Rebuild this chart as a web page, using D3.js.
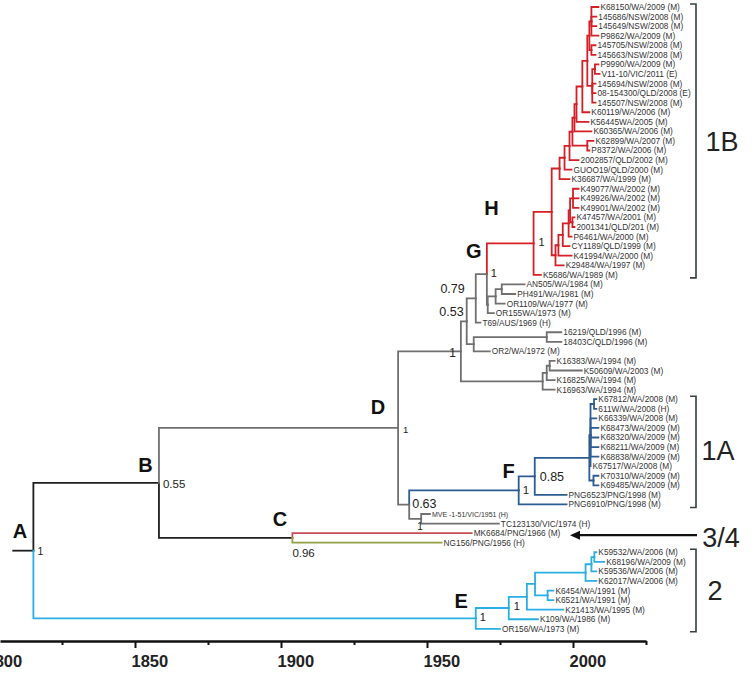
<!DOCTYPE html>
<html><head><meta charset="utf-8">
<script src="https://cdn.jsdelivr.net/npm/d3@7"></script>
<style>body{margin:0;background:#fff}svg{display:block}</style>
</head><body>
<svg id="c" width="755" height="674"></svg>
<script>
// ---------- DATA ----------
const tipNames = [
"K68150/WA/2009 (M)","145686/NSW/2008 (M)","145649/NSW/2008 (M)","P9862/WA/2009 (M)","145705/NSW/2008 (M)","145663/NSW/2008 (M)",
"P9990/WA/2009 (M)","V11-10/VIC/2011 (E)","145694/NSW/2008 (M)","08-154300/QLD/2008 (E)","145507/NSW/2008 (M)",
"K60119/WA/2006 (M)","K56445WA/2005 (M)","K60365/WA/2006 (M)","K62899/WA/2007 (M)","P8372/WA/2006 (M)",
"2002857/QLD/2002 (M)","GUOO19/QLD/2000 (M)","K36687/WA/1999 (M)","K49077/WA/2002 (M)","K49926/WA/2002 (M)",
"K49901/WA/2002 (M)","K47457/WA/2001 (M)","2001341/QLD/201 (M)","P6461/WA/2000 (M)","CY1189/QLD/1999 (M)",
"K41994/WA/2000 (M)","K29484/WA/1997 (M)","K5686/WA/1989 (M)",
"AN505/WA/1984 (M)","PH491/WA/1981 (M)","OR1109/WA/1977 (M)","OR155WA/1973 (M)","T69/AUS/1969 (H)",
"16219/QLD/1996 (M)","18403C/QLD/1996 (M)","OR2/WA/1972 (M)","K16383/WA/1994 (M)","K50609/WA/2003 (M)",
"K16825/WA/1994 (M)","K16963/WA/1994 (M)",
"K67812/WA/2008 (M)","611W/WA/2008 (H)","K66339/WA/2008 (M)","K68473/WA/2009 (M)","K68320/WA/2009 (M)",
"K68211/WA/2009 (M)","K68838/WA/2009 (M)","K67517/WA/2008 (M)","K70310/WA/2009 (M)","K69485/WA/2009 (M)",
"PNG6523/PNG/1998 (M)","PNG6910/PNG/1998 (M)",
"MVE -1-51/VIC/1951 (H)","TC123130/VIC/1974 (H)",
"MK6684/PNG/1966 (M)","NG156/PNG/1956 (H)",
"K59532/WA/2006 (M)","K68196/WA/2009 (M)","K59536/WA/2006 (M)","K62017/WA/2006 (M)","K6454/WA/1991 (M)",
"K6521/WA/1991 (M)","K21413/WA/1995 (M)","K109/WA/1986 (M)","OR156/WA/1973 (M)"
];
const tipParents = [
"T1a","T1a","T1a","T1a","T1b","T1b",
"T2a","T2a","T2","T2","T2",
"Ru7","Ru6","Ru5","Rkp","Rkp",
"Ru3","Ru2","Rup","Rl6","Rl6",
"Rl6","Rl7","Rl7","Rl4","Rl3",
"Rlow","RlowAll","H",
"Gg4","Gg4","Gg3","Gg","N079",
"Q2","Q2","Q","Kc3","Kc3",
"Kc2","Kc",
"Bu1","Bu1","Bup","Bup","Bup",
"Bup","Bup","Bup","Bk","Bk",
"N085","F",
"Nmt","Nmt",
"C","C",
"E8","E8","E7","E5","E6",
"E6","E3","E2","E"
];
const tipYears = [
2008.7,2008,2008,2008.7,2007.7,2007.7,
2008.7,2009.1,2007.7,2007.7,2007.7,
2005.6,2005.3,2006.3,2007,2005.6,
2001.9,1999.5,1998.8,2001.9,2001.9,
2001.9,2000.5,2000.5,1999.5,1998.8,
1999.5,1996.8,1989,
1983.4,1980.2,1976.6,1972.9,1968.3,
1996,1996,1971.5,1993.7,2003,
1993.7,1993.7,
2008,2008,2008,2008.7,2008.7,
2008.7,2008.7,2006,2008.7,2008.7,
1997.8,1997.8,
1951,1974.6,
1965.3,1955,
2008,2010.7,2008,2008,1993.3,
1993.3,1996.7,1988,1975
];
const nodeIds     = ["A","B","C","D","G1","N053","N079","G","H","H2","Rup","Ru2","Ru3","Ru4","Ru5","Ru6","Ru7","T","T1","T1a","T1b","T2","T2a","Rkp","RlowAll","Rlow","Rl3","Rl4","Rl5","Rl6","Rl7","Gg","Gg3","Gg4","Q","Q2","Kc","Kc2","Kc3","N063","F","N085","BC","Bup","Bu1","Bk","Nmt","E","E2","E3","E4","E5","E6","E7","E8"];
const nodeParents = [null,"A","B","B","D","G1","N053","N079","G","H","H2","Rup","Ru2","Ru3","Ru4","Ru5","Ru6","Ru7","T","T1","T1","T","T2","Ru4","H2","RlowAll","Rlow","Rl3","Rl4","Rl5","Rl5","G","Gg","Gg3","N053","Q","G1","Kc","Kc2","D","N063","F","N085","BC","Bup","BC","N063","A","E","E2","E3","E4","E4","E5","E7"];
const nodeYears   = [1815.2,1858.2,1903.9,1940.1,1961.6,1963.6,1966.7,1970.5,1986.5,1992.7,1995.4,1997.1,1998.8,1999.8,2000.5,2001.2,2003.2,2004.9,2005.6,2006.3,2006.3,2006.6,2007.5,2004.9,1994,1995,1996.5,1998.5,1999,2000,1999.8,1970.8,1973.5,1975.6,1966,1991,1989.6,1991,1992,1943.9,1981.4,1986.9,2005.6,2006,2007.2,2007,1948,1966.7,1978,1984.2,1987,2004.3,1991.3,2006.3,2007.3];
const nodeSupport = ["1","0.55","0.96","1","1","0.53","0.79","1","1","","","","","","","","","","","","","","","","","","","","","","","","","","","","","","","0.63","1","0.85","","","","","1","1","1","","","","","",""];
const nodeLetters = ["A","B","C","D","","","","G","H","","","","","","","","","","","","","","","","","","","","","","","","","","","","","","","","F","","","","","","","E","","","","","","",""];
const stemStartYear = 1808.3;
const majorTicks = [1800,1850,1900,1950,2000];
const minorTicks = [1825,1875,1925,1975,2025];
const cladeLabels = ["1B","1A","3/4","2"];
const cladeFirstTip = ["K68150/WA/2009 (M)","K67812/WA/2008 (M)",null,"K59532/WA/2006 (M)"];
const cladeLastTip  = ["K5686/WA/1989 (M)","PNG6910/PNG/1998 (M)",null,"OR156/WA/1973 (M)"];
const arrowTip = "MK6684/PNG/1966 (M)";

// ---------- STYLE ----------
const FONT = "'Liberation Sans', Arial, sans-serif";
const COL = {black:"#1e1e1e", grey:"#707070", red:"#d51f26", blue:"#2c5d92", cyan:"#2aaee4", mk:"#c74d58", ng:"#93a042"};
const colourRoots = new Map([["A",COL.black],["D",COL.grey],["H",COL.red],["F",COL.blue],["E",COL.cyan],
  ["MK6684/PNG/1966 (M)",COL.mk],["NG156/PNG/1956 (H)",COL.ng]]);
const letterOff = {A:[-13.5,-13],B:[-13.5,-11],C:[-12.5,-12],D:[-20,-14],E:[-14.5,-10],F:[-10,-12.6],G:[-13,-15.6],H:[-42,-28]};
const supOff = {A:[4,4.7,"start",10.5],B:[4,4.7,"start",11.5],C:[0,19,"start",11.5],D:[5,4.8,"start",9.5],
  G1:[-5,6,"end",12],N053:[-3,-5.7,"end",12.5],N079:[-11,-5.8,"end",12.5],G:[4,2.5,"start",11],H:[5,2.5,"start",11],
  N063:[3,3,"start",12.5],F:[4,3.5,"start",11.5],N085:[5,4.5,"start",12.5],Nmt:[-4,11,"start",10],E:[4,3,"start",11],E2:[5,2,"start",11]};

// ---------- BUILD ----------
const svg = d3.select("#c");
const x = d3.scaleLinear().domain([1850, 2000]).range([135, 573]);
const y = d3.scalePoint().domain(tipNames).range([7, 628.8]);

const rows = nodeIds.map((id,i)=>({id, parent:nodeParents[i], year:nodeYears[i], support:nodeSupport[i], letter:nodeLetters[i]}))
  .concat(tipNames.map((n,i)=>({id:n, parent:tipParents[i], year:tipYears[i], tip:true})));
const root = d3.stratify().id(d=>d.id).parentId(d=>d.parent)(rows);
root.eachAfter(n=>{
  n.px = x(n.data.year);
  if (!n.children) n.py = y(n.id);
  else { const ys = n.children.map(c=>c.py); n.py = (d3.min(ys)+d3.max(ys))/2; }
});
function colourOf(n){ for(let a=n;a;a=a.parent){ if(colourRoots.has(a.id)) return colourRoots.get(a.id);} return COL.black; }

const gTree = svg.append("g").attr("fill","none").attr("stroke-width",1.8).attr("stroke-linejoin","miter").attr("stroke-linecap","square");
gTree.append("path").attr("d",`M${x(stemStartYear)},${root.py}H${root.px}`).attr("stroke",COL.black);
const links = root.descendants().filter(n=>n.parent);
gTree.selectAll("path.br").data(links).join("path").attr("class","br")
  .attr("stroke",d=>colourOf(d))
  .attr("d",d=>`M${d.parent.px},${d.parent.py}V${d.py}H${d.px}`);

// tip labels
svg.append("g").selectAll("text").data(root.leaves()).join("text")
  .attr("x",d=>d.px+2).attr("y",d=>d.py+3)
  .attr("font-family",FONT).attr("fill","#333")
  .attr("font-size",d=>d.id.startsWith("MVE")?7:8.3)
  .text(d=>d.id);

// support values
const supNodes = root.descendants().filter(n=>n.data.support);
svg.append("g").selectAll("text").data(supNodes).join("text")
  .attr("x",d=>d.px+(supOff[d.id]||[4,4])[0]).attr("y",d=>d.py+(supOff[d.id]||[4,4])[1])
  .attr("text-anchor",d=>(supOff[d.id]||[0,0,"start"])[2])
  .attr("font-size",d=>(supOff[d.id]||[0,0,"start",11])[3])
  .attr("font-family",FONT).attr("fill","#222").text(d=>d.data.support);

// node letters
const letNodes = root.descendants().filter(n=>n.data.letter);
svg.append("g").selectAll("text").data(letNodes).join("text")
  .attr("x",d=>d.px+letterOff[d.id][0]).attr("y",d=>d.py+letterOff[d.id][1])
  .attr("text-anchor","middle").attr("font-family",FONT).attr("font-weight","bold").attr("font-size",20)
  .attr("fill","#111").text(d=>d.data.letter);

// clade brackets and labels
const brX = 696, tickW = 6;
const cladeLabelPos = [[722,151],[718,460],[721,547],[715,600]];
cladeLabels.forEach((lab,i)=>{
  if (cladeFirstTip[i]) {
    const y0 = y(cladeFirstTip[i]) - 3, y1 = y(cladeLastTip[i]) + 3;
    svg.append("path").attr("d",`M${brX-tickW},${y0}H${brX}V${y1}H${brX-tickW}`)
      .attr("fill","none").attr("stroke","#34413e").attr("stroke-width",1.6);
  }
  svg.append("text").attr("x",cladeLabelPos[i][0]).attr("y",cladeLabelPos[i][1])
    .attr("text-anchor","middle").attr("font-family",FONT).attr("font-size",27).attr("fill","#222").text(lab);
});
// arrow for 3/4
const ay = y(arrowTip) + 2;
svg.append("line").attr("x1",697).attr("x2",578).attr("y1",ay).attr("y2",ay).attr("stroke","#111").attr("stroke-width",2.2);
svg.append("path").attr("d",`M570,${ay}L580,${ay-4.5}L580,${ay+4.5}Z`).attr("fill","#111");

// axis
const axisScale = x.copy().domain([x.invert(0), 2025]).range([0, x(2025)]);
const axisY = 641;
const gAx = svg.append("g").attr("transform",`translate(0,${axisY})`)
  .call(d3.axisBottom(axisScale).tickValues(majorTicks).tickSize(7).tickSizeOuter(0).tickFormat(d3.format("d")));
gAx.select(".domain").attr("stroke","#111").attr("stroke-width",2.6);
gAx.selectAll(".tick line").attr("stroke","#111").attr("stroke-width",2);
gAx.selectAll(".tick text").attr("text-anchor","start").attr("dx",-4).attr("y",14)
  .attr("font-family",FONT).attr("font-weight","bold").attr("font-size",16.5).attr("fill","#222");
const gMin = svg.append("g").attr("transform",`translate(0,${axisY})`)
  .call(d3.axisBottom(axisScale).tickValues(minorTicks).tickSize(4).tickSizeOuter(0).tickFormat(""));
gMin.select(".domain").remove();
gMin.selectAll(".tick line").attr("stroke","#111").attr("stroke-width",2);
</script>
</body></html>
